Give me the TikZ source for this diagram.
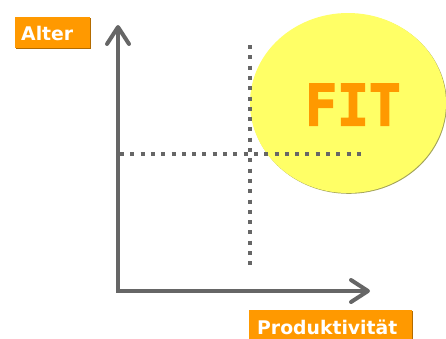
\documentclass[tikz,border=0pt]{standalone}
\usepackage{fontspec}
\setmainfont{DejaVu Sans}
\newfontfamily\fitfont{DejaVu Sans Mono}[BoldFeatures={FakeBold=2.5}]
\usetikzlibrary{arrows.meta,shadows,shapes.geometric}
\definecolor{axisgray}{HTML}{666666}
\definecolor{fitorange}{HTML}{FF9900}
\definecolor{fityellow}{HTML}{FFFF66}
\definecolor{boxshade}{HTML}{B36B00}
\definecolor{ovalshade}{HTML}{A3A35A}
\begin{document}
\begin{tikzpicture}[x=1pt,y=-1pt,
  axis/.style={draw=axisgray,line width=4pt,
    {Straight Barb[length=17pt,width=22pt,round]}-{Straight Barb[length=17pt,width=22pt,round]}},
  guide/.style={draw=axisgray,line width=4pt,dash pattern=on 4pt off 6.3pt},
  labelbox/.style={fill=fitorange,text=white,font=\bfseries\fontsize{18.8}{20}\selectfont,
    inner ysep=0pt,align=left,
    drop shadow={shadow xshift=1pt,shadow yshift=-1pt,fill=boxshade,opacity=1}},
  fitoval/.style={ellipse,fill=fityellow,minimum width=196pt,minimum height=180pt,inner sep=0pt,
    drop shadow={shadow xshift=0.8pt,shadow yshift=-0.8pt,fill=ovalshade,opacity=1}}]
  \useasboundingbox (0,0) rectangle (446,338);
  \clip (0,0) rectangle (446,338);

  % the FIT zone
  \node[fitoval] (fit) at (348,103) {};

  % dotted guide lines
  \coordinate (vtop) at (250,45);
  \coordinate (vbot) at (250,268);
  \coordinate (hleft) at (120,154);
  \coordinate (hright) at (364,154);
  \draw[guide] (vtop) -- (vbot);
  \draw[guide] (hleft) -- (hright);

  % axes
  \coordinate (ytip) at (118,25);
  \coordinate (xtip) at (370,291);
  \draw[axis] (ytip) |- (xtip);

  % texts
  \node[anchor=base,text=fitorange,font=\fitfont\bfseries\fontsize{57}{60}\selectfont] (fittext) at (353,125.5) {\scalebox{0.93}[1]{FIT}};
  \node[labelbox,anchor=north west,inner xsep=6pt,text width=63pt,text height=23pt,text depth=8pt]
    (alter) at (15,17) {Alter};
  \node[labelbox,anchor=north west,inner xsep=8pt,text width=147pt,text height=24.5pt,text depth=10pt]
    (prod) at (249,310) {Produktivität};
\end{tikzpicture}
\end{document}
